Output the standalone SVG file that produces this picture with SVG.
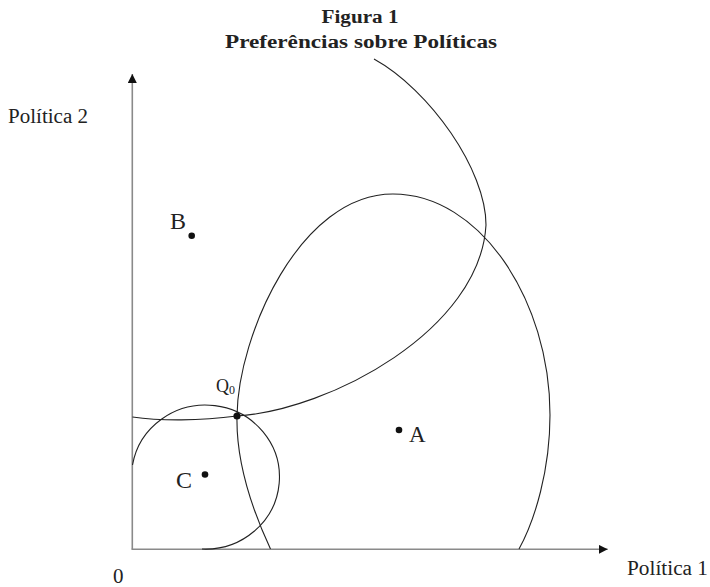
<svg xmlns="http://www.w3.org/2000/svg" width="710" height="587" viewBox="0 0 710 587">
<style>
.t{font-family:"Liberation Serif","Times New Roman",serif;fill:#222}
.ti{font-family:"Liberation Serif","Times New Roman",serif;font-weight:bold;fill:#222;font-size:18px}
.ax{stroke:#8a8a8a;stroke-width:1.6;fill:none}
.cv{stroke:#222;stroke-width:1.1;fill:none}
.dot{fill:#111}
</style>
<defs>
<marker id="arr" viewBox="0 0 10 10" refX="10" refY="5" markerWidth="9" markerHeight="9" markerUnits="userSpaceOnUse" orient="auto">
<path d="M0,0 L10,5 L0,10 z" fill="#111"/>
</marker>
</defs>
<rect width="710" height="587" fill="#fff"/>
<g id="title">
<text class="ti" x="360" y="23" text-anchor="middle" textLength="77" lengthAdjust="spacingAndGlyphs">Figura 1</text>
<text class="ti" x="361" y="48" text-anchor="middle" textLength="272" lengthAdjust="spacingAndGlyphs">Preferências sobre Políticas</text>
</g>
<g id="connectors">
<line class="ax" x1="132.3" y1="549.3" x2="132.3" y2="74" marker-end="url(#arr)"/>
<line class="ax" x1="131.5" y1="549.3" x2="607.7" y2="549.3" marker-end="url(#arr)"/>
</g>
<g id="curve-C">
<path class="cv" d="M132.5,465 A74,72 0 1,1 202,549"/>
</g>
<g id="curve-A">
<path class="cv" d="M270.5,549 C250,505 236,460 237,416 C238,335 300,194 393,194 C480,194 550,300 550,415 C550,470 535,520 519,549"/>
</g>
<g id="curve-B">
<path class="cv" d="M132.5,417 C160,421 200,421 237,416 C330,410 480,330 486,225 C486,170 430,90 374,59"/>
</g>
<g id="label-y">
<text class="t" x="8" y="123" font-size="20" textLength="80" lengthAdjust="spacingAndGlyphs">Política 2</text>
</g>
<g id="label-x">
<text class="t" x="627" y="575" font-size="20" textLength="81" lengthAdjust="spacingAndGlyphs">Política 1</text>
</g>
<g id="origin">
<text class="t" x="113" y="583" font-size="21">0</text>
</g>
<g id="node-B">
<circle class="dot" cx="191.7" cy="235.7" r="3.3"/>
<text class="t" x="170" y="229" font-size="24">B</text>
</g>
<g id="node-A">
<circle class="dot" cx="399" cy="430" r="3.3"/>
<text class="t" x="409" y="442" font-size="23">A</text>
</g>
<g id="node-C">
<circle class="dot" cx="205" cy="474.5" r="3.3"/>
<text class="t" x="176" y="488" font-size="24">C</text>
</g>
<g id="node-Q0">
<circle class="dot" cx="237" cy="416" r="3.6"/>
<text class="t" x="216" y="392" font-size="18">Q<tspan font-size="12" dy="2">0</tspan></text>
</g>
</svg>
